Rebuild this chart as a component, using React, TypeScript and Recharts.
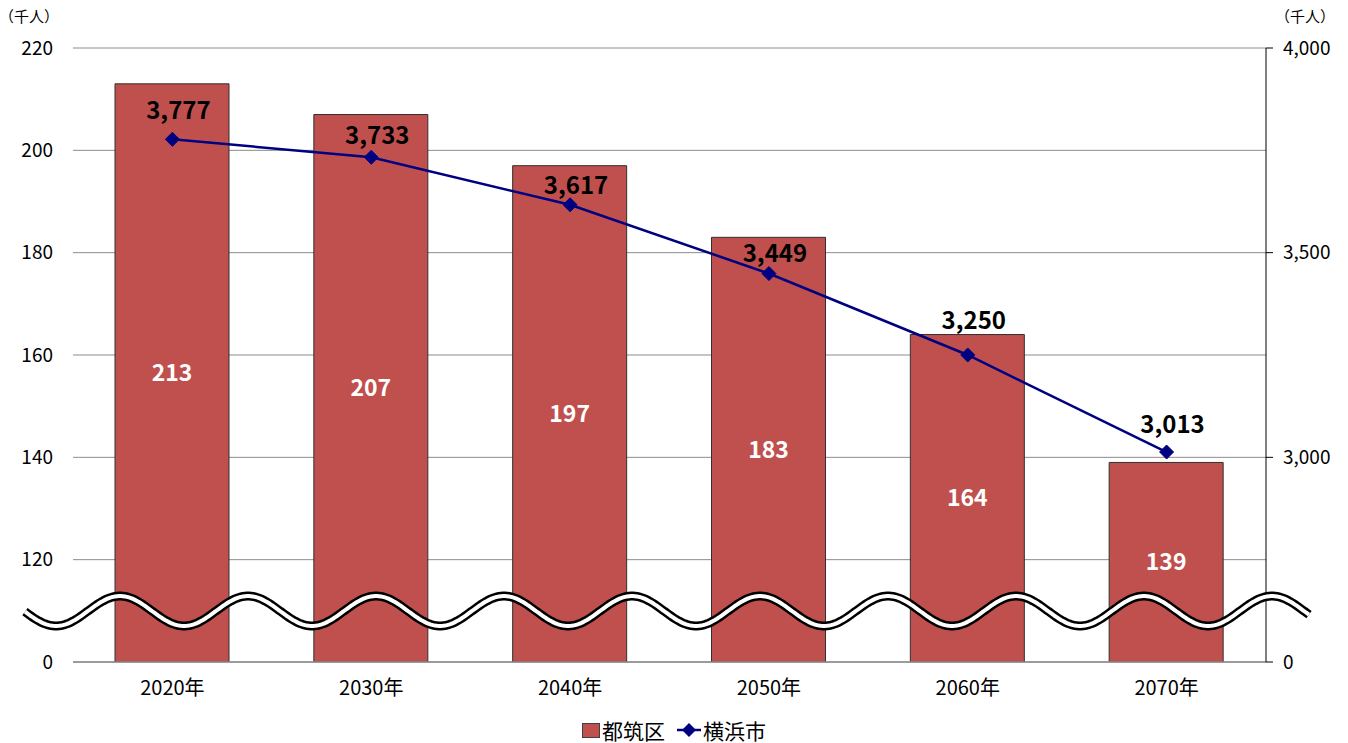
import React from 'react';
import { ComposedChart, Bar, Line, XAxis, YAxis, CartesianGrid, Legend, LabelList } from 'recharts';

const categories = ['2020年', '2030年', '2040年', '2050年', '2060年', '2070年'];
const tsuzukiValues = [213, 207, 197, 183, 164, 139];
const yokohamaValues = [3777, 3733, 3617, 3449, 3250, 3013];
const leftTicks = [100, 120, 140, 160, 180, 200, 220];
const leftTickLabels = ['0', '120', '140', '160', '180', '200', '220'];
const rightTicks = [2500, 3000, 3500, 4000];
const rightTickLabels = ['0', '3,000', '3,500', '4,000'];
const seriesNames = ['都筑区', '横浜市'];
const unitLabel = '（千人）';

const data = categories.map((c, i) => ({ name: c, tsuzuki: tsuzukiValues[i], yokohama: yokohamaValues[i] }));

const FONT = '"Noto Sans CJK JP", "Noto Sans", sans-serif';
const BAR_COLOR = '#C0504D';
const LINE_COLOR = '#000080';
const GRID_COLOR = '#8c8c8c';
const LINE_LABEL_OFFSETS = [20, 13, 11, 12, 26, 19];

const W = 1348;
const H = 743;

const Diamond = (props: any) => {
  const { cx, cy } = props;
  if (cx == null || cy == null) return null;
  const r = 7;
  return <polygon points={`${cx},${cy - r} ${cx + r},${cy} ${cx},${cy + r} ${cx - r},${cy}`} fill={LINE_COLOR} stroke={LINE_COLOR} strokeWidth={1} />;
};

const LineLabel = (props: any) => {
  const { x, y, value, index } = props;
  const off = LINE_LABEL_OFFSETS[index] ?? 16;
  return (
    <text x={x + 6} y={y - off} textAnchor="middle" fontFamily={FONT} fontSize={24} fontWeight="bold" fill="#000">
      {Number(value).toLocaleString('en-US')}
    </text>
  );
};

const renderLegend = () => (
  <div style={{ display: 'flex', justifyContent: 'center', alignItems: 'center', height: 26, fontFamily: FONT, fontSize: 21, color: '#000' }}>
    <span style={{ display: 'inline-block', width: 16, height: 13, background: BAR_COLOR, border: '1px solid #404040', marginRight: 2 }} />
    <span>{seriesNames[0]}</span>
    <svg width={24} height={16} style={{ marginLeft: 12, marginRight: 2 }}>
      <line x1={0} y1={8} x2={24} y2={8} stroke={LINE_COLOR} strokeWidth={2.5} />
      <polygon points="12,1 19,8 12,15 5,8" fill={LINE_COLOR} />
    </svg>
    <span>{seriesNames[1]}</span>
  </div>
);

const wavePath = (() => {
  const pts: string[] = [];
  for (let x = 25; x <= 1310; x += 2) {
    const y = 611 - 15 * Math.cos((2 * Math.PI * (x - 120)) / 128);
    pts.push(`${x === 25 ? 'M' : 'L'}${x},${y.toFixed(2)}`);
  }
  return pts.join(' ');
})();

export default function App() {
  return (
    <div style={{ position: 'absolute', left: 0, top: 0, width: W, height: H, background: '#fff' }}>
      <ComposedChart width={W} height={H} data={data} margin={{ top: 48, right: 0, bottom: 0, left: 0 }} barSize={114} style={{ fontFamily: FONT }}>
        <CartesianGrid yAxisId="left" vertical={false} stroke={GRID_COLOR} strokeWidth={1} />
        <XAxis
          dataKey="name"
          height={55}
          axisLine={{ stroke: GRID_COLOR, strokeWidth: 1.5 }}
          tickLine={false}
          tickSize={6}
          tickMargin={13}
          tick={{ fontSize: 20, fill: '#000', fontFamily: FONT }}
        />
        <YAxis
          yAxisId="left"
          orientation="left"
          width={73}
          domain={[100, 220]}
          ticks={leftTicks}
          interval={0}
          allowDataOverflow
          axisLine={false}
          tickLine={false}
          tickSize={6}
          tickMargin={14}
          tick={{ fontSize: 19, fill: '#000', fontFamily: FONT }}
          tickFormatter={(v: number) => leftTickLabels[leftTicks.indexOf(v)] ?? String(v)}
          label={(p: any) => (
            <text x={29} y={22} textAnchor="middle" fontFamily={FONT} fontSize={15} fill="#000">{unitLabel}</text>
          )}
        />
        <YAxis
          yAxisId="right"
          orientation="right"
          width={82}
          domain={[2500, 4000]}
          ticks={rightTicks}
          interval={0}
          allowDataOverflow
          axisLine={{ stroke: '#000', strokeWidth: 1 }}
          tickLine={{ stroke: '#000', strokeWidth: 1 }}
          tickSize={7}
          tickMargin={10}
          tick={{ fontSize: 19, fill: '#000', fontFamily: FONT }}
          tickFormatter={(v: number) => rightTickLabels[rightTicks.indexOf(v)] ?? String(v)}
          label={(p: any) => (
            <text x={1305} y={22} textAnchor="middle" fontFamily={FONT} fontSize={15} fill="#000">{unitLabel}</text>
          )}
        />
        <Legend verticalAlign="bottom" content={renderLegend} />
        <Bar yAxisId="left" dataKey="tsuzuki" name={seriesNames[0]} fill={BAR_COLOR} stroke="#303030" strokeWidth={1} isAnimationActive={false}>
          <LabelList dataKey="tsuzuki" position="center" fill="#fff" fontSize={23} fontWeight="bold" fontFamily={FONT} />
        </Bar>
        <Line yAxisId="right" dataKey="yokohama" name={seriesNames[1]} stroke={LINE_COLOR} strokeWidth={2.5} dot={<Diamond />} activeDot={false} isAnimationActive={false}>
          <LabelList dataKey="yokohama" content={<LineLabel />} />
        </Line>
      </ComposedChart>
      <svg width={W} height={H} style={{ position: 'absolute', left: 0, top: 0, pointerEvents: 'none' }}>
        <path d={wavePath} fill="none" stroke="#000" strokeWidth={9} />
        <path d={wavePath} fill="none" stroke="#fff" strokeWidth={4} />
      </svg>
    </div>
  );
}
